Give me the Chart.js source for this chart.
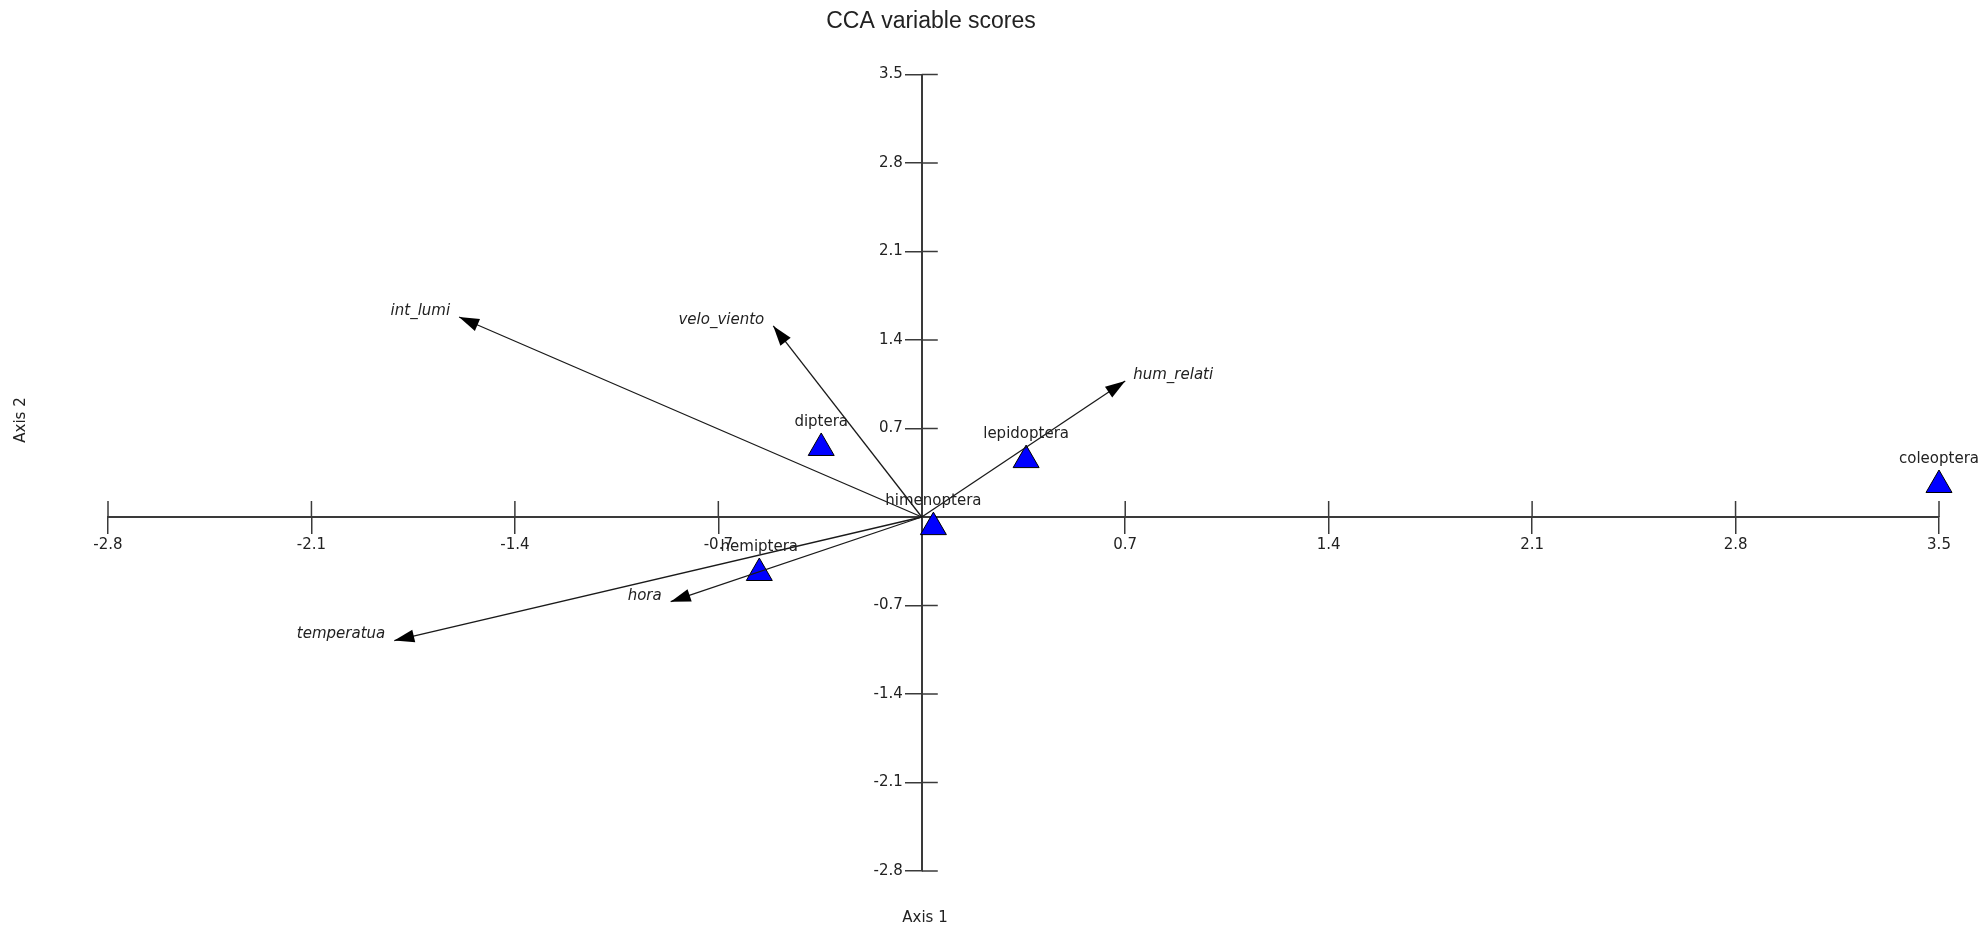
<!DOCTYPE html>
<html>
<head>
<meta charset="utf-8">
<script src="https://cdn.jsdelivr.net/npm/chart.js@4.4.1/dist/chart.umd.min.js"></script>
<style>
    html, body { margin: 0; padding: 0; background: #fff; }
    #wrap { width: 1980px; height: 927px; }
</style>
</head>
<body>
<div id="wrap"><canvas id="chart_cca"></canvas></div>
<script>
// species scores (blue triangles)
const speciesNames = ['diptera', 'lepidoptera', 'himenoptera', 'hemiptera', 'coleoptera'];
const speciesAxis1 = [-0.346, 0.359, 0.04, -0.559, 3.50];
const speciesAxis2 = [0.546, 0.45, -0.08, -0.443, 0.253];

// environmental variables (arrows from the origin)
const variableNames = ['int_lumi', 'velo_viento', 'hum_relati', 'hora', 'temperatua'];
const variableAxis1 = [-1.592, -0.511, 0.70, -0.864, -1.815];
const variableAxis2 = [1.582, 1.511, 1.076, -0.67, -0.977];

// tick values, same on both axes (no label at 0)
const axisTicks = [-2.8, -2.1, -1.4, -0.7, 0.7, 1.4, 2.1, 2.8, 3.5];

const chartTitle = 'CCA variable scores';
const xTitle = 'Axis 1';
const yTitle = 'Axis 2';

const AXIS_COLOR = '#3a3a3a';
const TEXT_COLOR = '#222';
const TICK_LEN = 16;
const labelFont = '15px "DejaVu Sans"';

const ccaDecor = {
    id: 'ccaDecor',
    beforeDatasetsDraw(chart) {
        // the inner half of each tick mark (chart.js only draws the outer half)
        const { ctx, scales: { x, y } } = chart;
        const ox = x.getPixelForValue(0);
        const oy = y.getPixelForValue(0);
        ctx.save();
        ctx.strokeStyle = AXIS_COLOR;
        ctx.lineWidth = 1.5;
        x.ticks.forEach((t) => {
            const px = x.getPixelForValue(t.value);
            ctx.beginPath();
            ctx.moveTo(px, oy);
            ctx.lineTo(px, oy - TICK_LEN);
            ctx.stroke();
        });
        y.ticks.forEach((t) => {
            const py = y.getPixelForValue(t.value);
            ctx.beginPath();
            ctx.moveTo(ox, py);
            ctx.lineTo(ox + TICK_LEN, py);
            ctx.stroke();
        });
        // y tick labels sit left of the tick marks; chart.js puts them on the axis line
        ctx.fillStyle = TEXT_COLOR;
        ctx.font = labelFont;
        ctx.textAlign = 'right';
        ctx.textBaseline = 'middle';
        y.ticks.forEach((t) => {
            ctx.fillText(t.value.toFixed(1), ox - TICK_LEN - 3, y.getPixelForValue(t.value));
        });
        ctx.restore();
    },
    afterDatasetsDraw(chart) {
        const { ctx, scales: { x, y } } = chart;
        const ox = x.getPixelForValue(0);
        const oy = y.getPixelForValue(0);
        ctx.save();
        // arrow heads + variable names
        variableNames.forEach((name, i) => {
            const tx = x.getPixelForValue(variableAxis1[i]);
            const ty = y.getPixelForValue(variableAxis2[i]);
            const a = Math.atan2(ty - oy, tx - ox);
            const len = 20, half = 6.5;
            const bx = tx - len * Math.cos(a);
            const by = ty - len * Math.sin(a);
            ctx.fillStyle = '#000';
            ctx.beginPath();
            ctx.moveTo(tx, ty);
            ctx.lineTo(bx + half * Math.sin(a), by - half * Math.cos(a));
            ctx.lineTo(bx - half * Math.sin(a), by + half * Math.cos(a));
            ctx.closePath();
            ctx.fill();

            ctx.fillStyle = TEXT_COLOR;
            ctx.font = 'italic ' + labelFont;
            ctx.textBaseline = 'middle';
            if (tx < ox) {
                ctx.textAlign = 'right';
                ctx.fillText(name, tx - 9, ty - 6);
            } else {
                ctx.textAlign = 'left';
                ctx.fillText(name, tx + 8, ty - 6);
            }
        });
        // species names above the triangles
        ctx.font = labelFont;
        ctx.textAlign = 'center';
        ctx.textBaseline = 'middle';
        ctx.fillStyle = TEXT_COLOR;
        speciesNames.forEach((name, i) => {
            const px = x.getPixelForValue(speciesAxis1[i]);
            const py = y.getPixelForValue(speciesAxis2[i]);
            ctx.fillText(name, px, py - 26);
        });
        ctx.restore();
    },
    afterDraw(chart) {
        const { ctx } = chart;
        ctx.save();
        ctx.fillStyle = TEXT_COLOR;
        ctx.textAlign = 'center';
        ctx.textBaseline = 'middle';
        ctx.font = '23px "Liberation Sans"';
        ctx.fillText(chartTitle, 931, 22);
        ctx.font = '15px "DejaVu Sans"';
        ctx.fillText(xTitle, 925, 918);
        ctx.translate(21, 420);
        ctx.rotate(-Math.PI / 2);
        ctx.fillText(yTitle, 0, 0);
        ctx.restore();
    },
};

const scaleOptions = (crossAxis, showLabels) => ({
    type: 'linear',
    min: -2.8,
    max: 3.5,
    position: { [crossAxis]: 0 },
    afterBuildTicks: (scale) => {
        scale.ticks = axisTicks.map((v) => ({ value: v }));
    },
    grid: {
        drawOnChartArea: false,
        drawTicks: true,
        tickLength: TICK_LEN,
        color: AXIS_COLOR,
        lineWidth: 1.5,
    },
    border: {
        display: true,
        color: AXIS_COLOR,
        width: 2,
    },
    ticks: {
        display: showLabels,
        color: TEXT_COLOR,
        font: { family: 'DejaVu Sans', size: 15 },
        padding: 3,
        maxRotation: 0,
        autoSkip: false,
        callback: (value) => value.toFixed(1),
    },
});

const arrowDatasets = variableNames.map((name, i) => ({
    label: name,
    data: [{ x: 0, y: 0 }, { x: variableAxis1[i], y: variableAxis2[i] }],
    showLine: true,
    borderColor: '#1a1a1a',
    borderWidth: 1.3,
    pointRadius: 0,
}));

const speciesDataset = {
    label: 'species',
    data: speciesNames.map((_, i) => ({ x: speciesAxis1[i], y: speciesAxis2[i] })),
    pointStyle: 'triangle',
    pointRadius: 15,
    backgroundColor: '#0000ff',
    borderColor: '#000',
    borderWidth: 1,
    clip: false,
};

new Chart(document.getElementById('chart_cca'), {
    type: 'scatter',
    data: { datasets: [...arrowDatasets, speciesDataset] },
    options: {
        responsive: true,
        maintainAspectRatio: false,
        animation: false,
        layout: {
            padding: { left: 108, right: 41, top: 74.5, bottom: 56 },
        },
        scales: {
            x: scaleOptions('y', true),
            y: scaleOptions('x', false),
        },
        plugins: {
            legend: { display: false },
            title: { display: false },
            tooltip: { enabled: false },
        },
    },
    plugins: [ccaDecor],
});
</script>
</body>
</html>
